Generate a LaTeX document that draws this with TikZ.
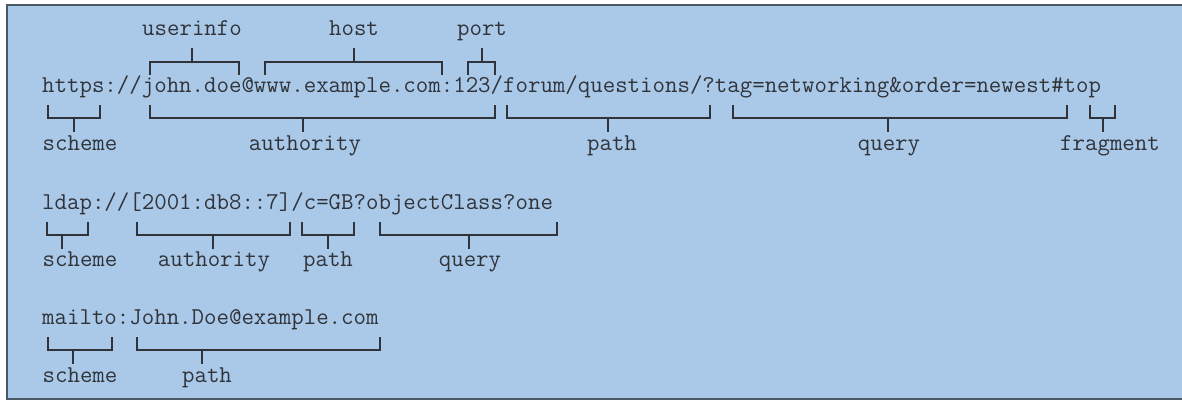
\documentclass[tikz,border=0pt]{standalone}
\definecolor{panel}{RGB}{170,201,233}
\definecolor{frame}{RGB}{74,88,102}
\definecolor{ink}{RGB}{48,52,58}
\tikzset{
  uri/.style={font=\ttfamily\fontsize{24.19}{28}\selectfont, text=ink, inner sep=0pt, anchor=mid west},
  lbl/.style={font=\ttfamily\fontsize{24.19}{28}\selectfont, text=ink, inner sep=0pt, anchor=mid},
  brace/.style={draw=ink, line width=1.3pt, line cap=rect}
}
% #1 left end, #2 right end, #3 stem x, #4 text line y, #5 +1 below the text / -1 above it
\newcommand{\urlbrace}[5]{%
  \draw[brace] ({#1},{#4+#5*16}) -- ({#1},{#4+#5*28}) -- ({#2},{#4+#5*28}) -- ({#2},{#4+#5*16});
  \draw[brace] ({#3},{#4+#5*28}) -- ({#3},{#4+#5*41});
}
\begin{document}
\begin{tikzpicture}[x=1pt,y=-1pt]
\useasboundingbox (0,0) rectangle (1182,401);
% panel and its frame
\fill[panel] (7,5) rectangle (1182,399);
\draw[frame, line width=2pt] (1182,5) -- (7,5) -- (7,399) -- (1182,399);

% https URI
\node[uri] (u1) at (42,90) {https://john.doe@www.example.com:123/forum/questions/?tag=networking\&order=newest\#top};
\node[lbl] (userinfo) at (192,33) {userinfo};
\node[lbl] (host) at (354,33) {host};
\node[lbl] (port) at (482,33) {port};
\urlbrace{150}{239}{192}{90}{-1}
\urlbrace{265}{442}{354}{90}{-1}
\urlbrace{468}{495}{482}{90}{-1}
\urlbrace{48}{100}{74}{90}{1}
\urlbrace{150}{495}{303}{90}{1}
\urlbrace{507}{710}{608}{90}{1}
\urlbrace{733}{1067}{888}{90}{1}
\urlbrace{1090}{1115}{1103}{90}{1}
\node[lbl] (scheme1) at (80,148) {scheme};
\node[lbl] (authority1) at (305,148) {authority};
\node[lbl] (path1) at (612,148) {path};
\node[lbl] (query1) at (889,148) {query};
\node[lbl] (fragment1) at (1110,148) {fragment};

% ldap URI
\node[uri] (u2) at (42,207) {ldap://[2001:db8::7]/c=GB?objectClass?one};
\urlbrace{47}{88}{62}{207}{1}
\urlbrace{137}{290}{213}{207}{1}
\urlbrace{302}{354}{328}{207}{1}
\urlbrace{380}{557}{469}{207}{1}
\node[lbl] (scheme2) at (80,264) {scheme};
\node[lbl] (authority2) at (214,264) {authority};
\node[lbl] (path2) at (328,264) {path};
\node[lbl] (query2) at (470,264) {query};

% mailto URI
\node[uri] (u3) at (42,322) {mailto:John.Doe@example.com};
\urlbrace{48}{112}{73}{322}{1}
\urlbrace{137}{380}{202}{322}{1}
\node[lbl] (scheme3) at (80,380) {scheme};
\node[lbl] (path3) at (207,380) {path};
\end{tikzpicture}
\end{document}
